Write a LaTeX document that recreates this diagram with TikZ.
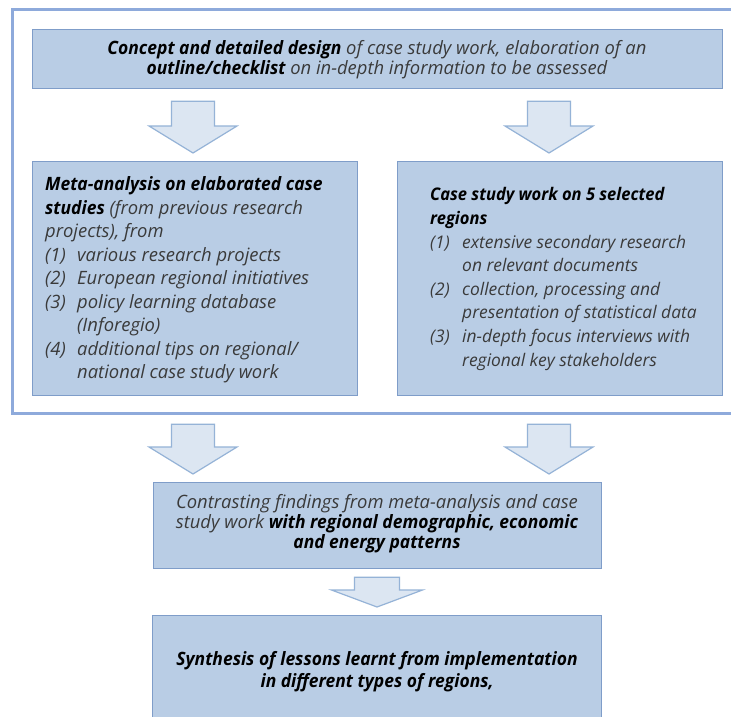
\documentclass[tikz,border=0pt]{standalone}
\usepackage{fontspec}
\setmainfont{Open Sans}[BoldItalicFeatures={FakeStretch=0.95}]
\usetikzlibrary{calc}
\definecolor{boxfill}{HTML}{B9CDE5}
\definecolor{boxline}{HTML}{7F9DC9}
\definecolor{arrfill}{HTML}{DCE6F2}
\definecolor{arrline}{HTML}{95B3D7}
\definecolor{frameline}{HTML}{8EAADB}
\definecolor{txtgray}{HTML}{3A3A3A}
\newcommand\B[1]{{\bfseries\color{black}#1}}
\newlength\itmw
\setlength\itmw{32pt}
\newcommand\itm[1]{\makebox[\itmw][l]{#1}}
\newcommand\ind{\hspace*{\itmw}}
% block arrow: centre x, from node, to node, gap below from-node, head length, half shaft, half head
\newcommand\barrow[7]{%
  \path[arrowshape] let \p1=(#2.south), \p2=(#3.north) in
    ({#1pt-#6pt},{\y1-#4pt}) -- ({#1pt+#6pt},{\y1-#4pt})
    -- ({#1pt+#6pt},{\y2+8pt+#5pt}) -- ({#1pt+#7pt},{\y2+8pt+#5pt})
    -- (#1pt,{\y2+8pt})
    -- ({#1pt-#7pt},{\y2+8pt+#5pt}) -- ({#1pt-#6pt},{\y2+8pt+#5pt}) -- cycle;}
\begin{document}
\begin{tikzpicture}[x=1pt,y=-1pt,
  box/.style={draw=boxline, fill=boxfill, line width=1.2pt, inner sep=0pt},
  arrowshape/.style={draw=arrline, fill=arrfill, line width=1.2pt, line join=miter},
  frame/.style={draw=frameline, line width=3pt},
  txt/.style={inner sep=0pt, text=txtgray, font=\fontsize{18.4}{20}\selectfont\itshape},
  lefttxtstyle/.style={txt, font=\fontsize{18.4}{23.5}\selectfont\itshape},
  righttxtstyle/.style={txt, font=\fontsize{17.4}{23.6}\selectfont\itshape}]
\useasboundingbox (0,0) rectangle (731,717);
\clip (0,0) rectangle (731,717);
\fill[white] (0,0) rectangle (731,717);
% outer frame
\draw[frame] (12,10) rectangle (760,413);
% boxes
\node[box, anchor=north west, minimum width=690pt, minimum height=59pt] (top) at (32,29) {};
\node[box, anchor=north west, minimum width=325pt, minimum height=234pt] (left) at (32,161) {};
\node[box, anchor=north west, minimum width=325pt, minimum height=234pt] (right) at (397,161) {};
\node[box, anchor=north west, minimum width=448pt, minimum height=86pt] (mid) at (153,482) {};
\node[box, anchor=north west, minimum width=449pt, minimum height=130pt] (bot) at (152,615) {};
% texts
\node[txt, align=center] (toptxt) at (377,59.5)
  {\B{Concept and detailed design} of case study work, elaboration of an\\
   \B{outline/checklist} on in-depth information to be assessed};
\node[lefttxtstyle, anchor=west, align=left] (lefttxt) at (45,280)
  {\B{Meta-analysis on elaborated case}\\
   \B{studies} (from previous research\\
   projects), from\\
   \itm{(1)}various research projects\\
   \itm{(2)}European regional initiatives\\
   \itm{(3)}policy learning database\\
   \ind(Inforegio)\\
   \itm{(4)}additional tips on regional/\\
   \ind national case study work};
\node[righttxtstyle, anchor=west, align=left] (righttxt) at (430,279)
  {\setlength\itmw{30pt}%
   \B{Case study work on 5 selected}\\
   \B{regions}\\
   \itm{(1)}extensive secondary research\\
   \ind on relevant documents\\
   \itm{(2)}collection, processing and\\
   \ind presentation of statistical data\\
   \itm{(3)}in-depth focus interviews with\\
   \ind regional key stakeholders};
\node[txt, align=center] (midtxt) at (377,524)
  {Contrasting findings from meta-analysis and case\\
   study work \B{with regional demographic, economic}\\
   \B{and energy patterns}};
\node[txt, align=center, font=\fontsize{18.4}{22}\selectfont\itshape] (bottxt) at (377,672)
  {\B{Synthesis of lessons learnt from implementation}\\
   \B{in different types of regions,}};
% arrows
\barrow{193}{top}{left}{12}{27}{21.5}{44}
\barrow{549}{top}{right}{12}{27}{21.5}{44}
\barrow{193}{left}{mid}{28}{27}{21.5}{44}
\barrow{549}{right}{mid}{28}{27}{21.5}{44}
\barrow{377}{mid}{bot}{8}{17}{22.5}{45.5}
\end{tikzpicture}
\end{document}
